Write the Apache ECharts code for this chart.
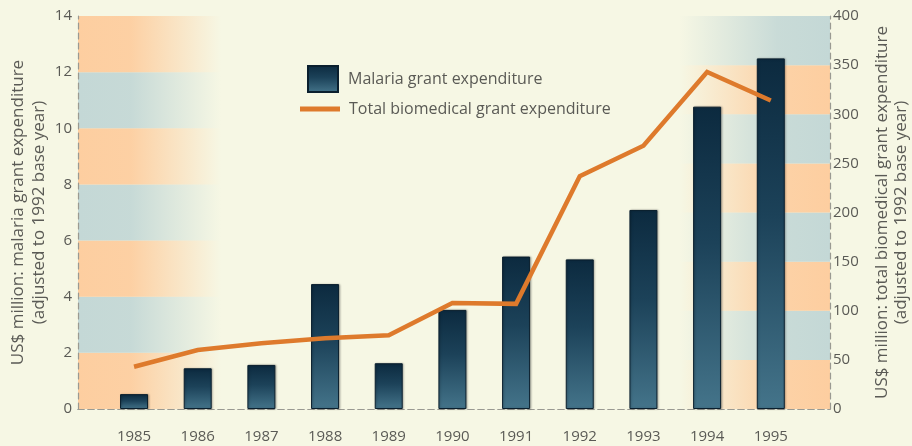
<!DOCTYPE html>
<html>
<head>
<meta charset="utf-8">
<script src="https://cdn.jsdelivr.net/npm/echarts@6/dist/echarts.min.js"></script>
<style>
  html, body { margin: 0; padding: 0; background: #f6f7e4; }
  #chart { width: 912px; height: 446px; }
</style>
</head>
<body>
<div id="chart"></div>
<script>
// Research grant expenditure, 1985–1995 (US$ million, 1992 prices)
const years = [1985, 1986, 1987, 1988, 1989, 1990, 1991, 1992, 1993, 1994, 1995];
const malariaGrants = [0.53, 1.45, 1.57, 4.45, 1.63, 3.53, 5.43, 5.33, 7.09, 10.77, 12.49];
const biomedicalGrants = [43, 60, 67, 72, 75, 108, 107, 237, 268, 343, 314];
const leftTicks = { min: 0, max: 14, step: 2 };
const rightTicks = { min: 0, max: 400, step: 50 };

const seriesNames = ['Malaria grant expenditure', 'Total biomedical grant expenditure'];
const leftAxisName = 'US$ million: malaria grant expenditure\n(adjusted to 1992 base year)';
const rightAxisName = 'US$ million: total biomedical grant expenditure\n(adjusted to 1992 base year)';

const ORANGE = '253,206,160';
const BLUE = '196,216,214';
const TEXT = '#5a5a55';
const FONT = '"Open Sans", Lato, sans-serif';

// Horizontal bands that fade out from the left edge / into the right edge
function fadeLeft(rgb) {
  return new echarts.graphic.LinearGradient(0, 0, 1, 0, [
    { offset: 0, color: 'rgba(' + rgb + ',1)' },
    { offset: 0.07, color: 'rgba(' + rgb + ',0.95)' },
    { offset: 0.19, color: 'rgba(' + rgb + ',0)' },
    { offset: 1, color: 'rgba(' + rgb + ',0)' }
  ]);
}
function fadeRight(rgb) {
  return new echarts.graphic.LinearGradient(0, 0, 1, 0, [
    { offset: 0, color: 'rgba(' + rgb + ',0)' },
    { offset: 0.8, color: 'rgba(' + rgb + ',0)' },
    { offset: 0.93, color: 'rgba(' + rgb + ',0.9)' },
    { offset: 1, color: 'rgba(' + rgb + ',1)' }
  ]);
}

const barFill = new echarts.graphic.LinearGradient(0, 0, 0, 1, [
  { offset: 0, color: '#0c2a3f' },
  { offset: 0.45, color: '#1c4259' },
  { offset: 1, color: '#44748a' }
]);

const dashed = { color: '#9a9a92', width: 1.2, type: [6, 4] };

const chart = echarts.init(document.getElementById('chart'));
chart.setOption({
  backgroundColor: '#f6f7e4',
  textStyle: { fontFamily: FONT },
  animation: false,
  grid: { left: 78, right: 82, top: 16, bottom: 37, containLabel: false, outerBoundsMode: 'none' },
  legend: [
    {
      data: [{ name: seriesNames[0], icon: 'rect' }],
      left: 302, top: 60,
      itemWidth: 30, itemHeight: 26,
      textStyle: { color: TEXT, fontSize: 16, fontFamily: FONT, padding: [0, 0, 0, 5] }
    },
    {
      data: [{ name: seriesNames[1], icon: 'rect' }],
      left: 295, top: 96,
      itemWidth: 40, itemHeight: 5,
      textStyle: { color: TEXT, fontSize: 16, fontFamily: FONT, padding: [0, 0, 0, 4] }
    }
  ],
  xAxis: [
    {
      type: 'value',
      min: 1984.12, max: 1995.93,
      axisLine: { show: true, lineStyle: dashed },
      axisTick: { show: false },
      splitLine: { show: false },
      axisLabel: {
        customValues: years,
        formatter: v => String(v),
        color: TEXT, fontSize: 15, margin: 20, fontFamily: FONT
      }
    },
    {
      type: 'value', position: 'top',
      min: 0, max: 1,
      axisLine: { show: true, lineStyle: dashed },
      axisTick: { show: false },
      axisLabel: { show: false },
      splitLine: { show: false }
    }
  ],
  yAxis: [
    {
      type: 'value',
      min: leftTicks.min, max: leftTicks.max, interval: leftTicks.step,
      name: leftAxisName, nameLocation: 'middle', nameGap: 28, nameRotate: 90,
      nameMoveOverlap: false,
      nameTextStyle: { color: TEXT, fontSize: 17, lineHeight: 21, fontFamily: FONT },
      axisLine: { show: true, lineStyle: dashed },
      axisTick: { show: false },
      axisLabel: { color: TEXT, fontSize: 15, margin: 6, fontFamily: FONT },
      splitLine: { show: false },
      splitArea: {
        show: true,
        areaStyle: { color: [fadeLeft(ORANGE), fadeLeft(BLUE)] }
      }
    },
    {
      type: 'value', position: 'right',
      min: rightTicks.min, max: rightTicks.max, interval: rightTicks.step,
      name: rightAxisName, nameLocation: 'middle', nameGap: 43, nameRotate: 90,
      nameMoveOverlap: false,
      nameTextStyle: { color: TEXT, fontSize: 17, lineHeight: 19, fontFamily: FONT },
      axisLine: { show: true, lineStyle: dashed },
      axisTick: { show: false },
      axisLabel: { color: TEXT, fontSize: 15, margin: 3, fontFamily: FONT },
      splitLine: { show: false },
      splitArea: {
        show: true,
        areaStyle: { color: [fadeRight(ORANGE), fadeRight(BLUE)] }
      }
    }
  ],
  series: [
    {
      name: seriesNames[0],
      type: 'bar',
      xAxisIndex: 0, yAxisIndex: 0,
      barWidth: 28,
      data: years.map((y, i) => [y, malariaGrants[i]]),
      itemStyle: {
        color: barFill,
        borderColor: '#0a1f2e',
        borderWidth: 1,
        shadowColor: 'rgba(0,0,0,0.25)',
        shadowBlur: 2,
        shadowOffsetX: 1
      }
    },
    {
      name: seriesNames[1],
      type: 'line',
      xAxisIndex: 0, yAxisIndex: 1,
      data: years.map((y, i) => [y, biomedicalGrants[i]]),
      symbol: 'none',
      lineStyle: { color: '#de7a2c', width: 4.5, join: 'miter' },
      itemStyle: { color: '#de7a2c' },
      z: 3
    }
  ]
});
</script>
</body>
</html>
